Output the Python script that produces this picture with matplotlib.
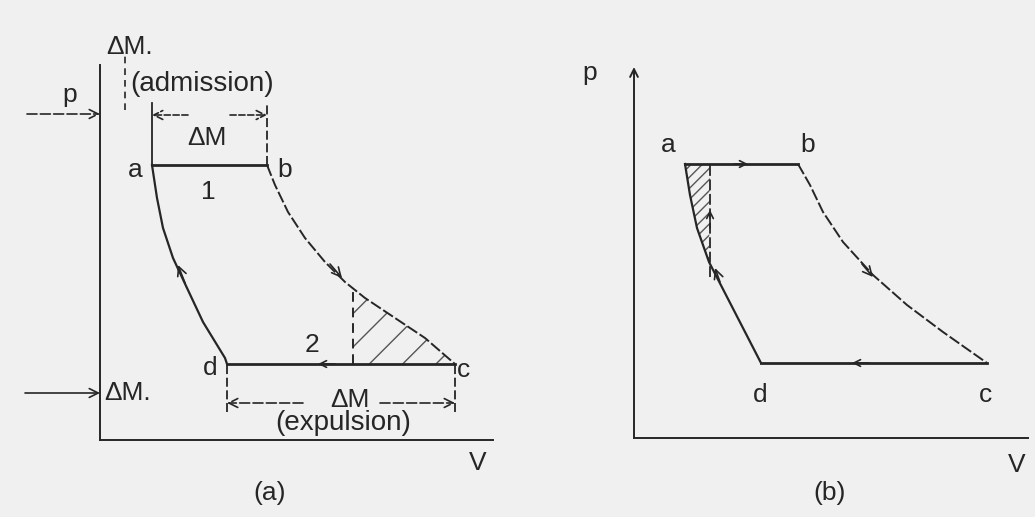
import numpy as np
import matplotlib.pyplot as plt
from matplotlib.patches import Polygon

# colours
PAPER = '#f0f0f0'
INK = '#262626'
FONT = 'Liberation Sans'

# ---- panel (a): cycle with admission / expulsion  (V, p) ----
A_V = [52, 167, 355, 127]          # a, b, c, d
A_P = [275, 275, 76, 76]
A_BC_V = [167, 175, 188, 205, 225, 245, 265, 295, 325, 355]
A_BC_P = [275, 255, 228, 202, 178, 158, 142, 122, 102, 76]
A_DA_V = [127, 125, 103, 87, 73, 63, 57, 52]
A_DA_P = [76, 82, 118, 152, 182, 212, 242, 275]
A_CUT_V = 253                      # dashed vertical in hatched zone

# ---- panel (b): ideal cycle ----
B_V = [51, 164, 353, 127]
B_P = [274, 274, 75, 75]
B_BC_V = [164, 176, 189, 209, 239, 273, 309, 353]
B_BC_P = [274, 253, 226, 196, 163, 133, 106, 75]
B_DA_V = [127, 75, 63, 56, 51]
B_DA_P = [75, 176, 210, 243, 274]
B_CUT_V = 76


def txt(ax, x, y, s, size=19):
    ax.text(x, y, s, ha='center', va='center', fontsize=size,
            family=FONT, color=INK)


def arrow(ax, tail, head, scale=16, ls='-'):
    ax.annotate('', xy=head, xytext=tail,
                arrowprops=dict(arrowstyle='->', color=INK, lw=1.2,
                                ls=ls, mutation_scale=scale,
                                shrinkA=0, shrinkB=0))


def cycle(ax, V, P, bc_v, bc_p, da_v, da_p):
    a, b, c, d = range(4)
    ax.plot([V[a], V[b]], [P[a], P[b]], color=INK, lw=2)
    ax.plot([V[d], V[c]], [P[d], P[c]], color=INK, lw=2)
    ax.plot(bc_v, bc_p, color=INK, lw=1.4, ls=(0, (6, 1.5)))
    ax.plot(da_v, da_p, color=INK, lw=1.6)


fig = plt.figure(figsize=(10.35, 5.17), dpi=100, facecolor=PAPER)

# ================= (a) =================
ax = fig.add_axes([0, 0, 517 / 1035, 1])
ax.set_xlim(-100, 417)
ax.set_ylim(-77, 440)
ax.axis('off')

ax.plot([0, 393], [0, 0], color=INK, lw=1.4)
ax.plot([0, 0], [0, 375], color=INK, lw=1.4)
cycle(ax, A_V, A_P, A_BC_V, A_BC_P, A_DA_V, A_DA_P)

# hatched zone under expansion curve
bc_v = np.array(A_BC_V)
bc_p = np.array(A_BC_P)
keep = bc_v >= A_CUT_V
top = np.interp(A_CUT_V, bc_v, bc_p)
poly = [(A_CUT_V, top)] + list(zip(bc_v[keep], bc_p[keep])) + [(A_CUT_V, A_P[2])]
ax.add_patch(Polygon(poly, closed=True, facecolor='none',
                     edgecolor='#555555', hatch='/', lw=0))
ax.plot([A_CUT_V, A_CUT_V], [A_P[2], top], color=INK,
        lw=1.4, ls=(0, (5, 3)))

# flow arrows
arrow(ax, (230, 176), (242, 162))
arrow(ax, (85, 157), (78, 175))
arrow(ax, (235, 76), (218, 76), scale=12)

# admission dimension
ax.plot([A_V[0], A_V[0]], [275, 337], color=INK, lw=1.3)
ax.plot([A_V[1], A_V[1]], [275, 337], color=INK, lw=1.3, ls=(0, (5, 2)))
arrow(ax, (88, 325), (52, 325), ls='--')
arrow(ax, (130, 325), (167, 325), ls='--')
txt(ax, 107, 302, '\u0394M')
txt(ax, 102, 356, '(admission)', size=20)
txt(ax, 30, 393, '\u0394M.')
ax.plot([25, 25], [330, 387], color=INK, lw=1.2, ls=(0, (4, 3)))
arrow(ax, (-73, 326), (0, 326), ls=(0, (6, 2)))
txt(ax, -30, 345, 'p')

# expulsion dimension
ax.plot([A_V[3], A_V[3]], [28, 76], color=INK, lw=1.3, ls=(0, (5, 2)))
ax.plot([A_V[2], A_V[2]], [28, 76], color=INK, lw=1.3, ls=(0, (5, 2)))
arrow(ax, (203, 37), (127, 37), ls=(0, (6, 2)))
arrow(ax, (280, 37), (355, 37), ls=(0, (6, 2)))
txt(ax, 250, 40, '\u0394M')
txt(ax, 243, 17, '(expulsion)', size=20)
arrow(ax, (-75, 47), (0, 47))
txt(ax, 28, 47, '\u0394M.')

txt(ax, 35, 270, 'a')
txt(ax, 185, 270, 'b')
txt(ax, 108, 248, '1')
txt(ax, 212, 95, '2')
txt(ax, 110, 72, 'd')
txt(ax, 363, 70, 'c')
txt(ax, 378, -23, 'V')
txt(ax, 170, -53, '(a)', size=19)

# ================= (b) =================
bx = fig.add_axes([517 / 1035, 0, 518 / 1035, 1])
bx.set_xlim(-117, 401)
bx.set_ylim(-79, 438)
bx.axis('off')

bx.plot([0, 394], [0, 0], color=INK, lw=1.4)
bx.annotate('', xy=(0, 371), xytext=(0, 0),
            arrowprops=dict(arrowstyle='->', color=INK, lw=1.4,
                            mutation_scale=14, shrinkA=0, shrinkB=0))
cycle(bx, B_V, B_P, B_BC_V, B_BC_P, B_DA_V, B_DA_P)

da_v = np.array(B_DA_V)
da_p = np.array(B_DA_P)
keep = da_v <= B_CUT_V
poly = list(zip(da_v[keep], da_p[keep])) + [(B_CUT_V, B_P[0])]
bx.add_patch(Polygon(poly, closed=True, facecolor='none',
                     edgecolor='#555555', hatch='///', lw=0))
bx.plot([B_CUT_V, B_CUT_V], [161, B_P[0]], color=INK,
        lw=1.3, ls=(0, (6, 2)))

arrow(bx, (100, 274), (114, 274), scale=12)
arrow(bx, (228, 174), (239, 161))
arrow(bx, (235, 75), (218, 75), scale=12)
arrow(bx, (86, 156), (81, 170))
arrow(bx, (76, 210), (76, 228), scale=12)

txt(bx, 34, 293, 'a')
txt(bx, 174, 293, 'b')
txt(bx, 126, 43, 'd')
txt(bx, 351, 43, 'c')
txt(bx, -44, 365, 'p')
txt(bx, 383, -27, 'V')
txt(bx, 196, -55, '(b)', size=19)

fig.savefig('out.png', dpi=100, facecolor=PAPER)
